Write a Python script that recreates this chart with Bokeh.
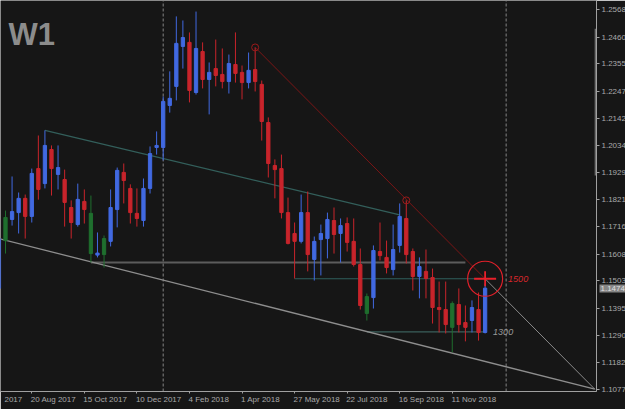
import math
from bokeh.plotting import figure
from bokeh.models import (ColumnDataSource, Range1d, LinearAxis, FixedTicker, Label)
from bokeh.core.properties import value
from bokeh.embed import file_html
from bokeh.resources import INLINE

# ---------------- data (weekly candles, week index 0 = 16 Jul 2017) -------------
week = list(range(75))
opens = [1.1473, 1.1661, 1.1744, 1.1771, 1.1827, 1.1756, 1.1944, 1.1885, 1.2019, 1.1921,
         1.1901, 1.1791, 1.1724, 1.1815, 1.1768, 1.1604, 1.1606, 1.1658, 1.1783, 1.1929,
         1.1866, 1.1768, 1.1740, 1.1866, 1.2027, 1.2027, 1.2192, 1.2267, 1.2424, 1.2440,
         1.2243, 1.2404, 1.2294, 1.2337, 1.2314, 1.2286, 1.2353, 1.2322, 1.2282, 1.2333,
         1.2275, 1.2125, 1.1956, 1.1944, 1.1771, 1.1689, 1.1658, 1.1771, 1.1587, 1.1665,
         1.1669, 1.1740, 1.1689, 1.1728, 1.1658, 1.1567, 1.1375, 1.1437, 1.1618, 1.1595,
         1.1547, 1.1642, 1.1748, 1.1618, 1.1520, 1.1540, 1.1516, 1.1398, 1.1390, 1.1320,
         1.1410, 1.1339, 1.1347, 1.1390, 1.1300]
highs = [1.1677, 1.1779, 1.1913, 1.1850, 1.1842, 1.1944, 1.2074, 1.2094, 1.2035, 1.2035,
         1.1940, 1.1819, 1.1885, 1.1862, 1.1838, 1.1693, 1.1681, 1.1862, 1.1948, 1.1964,
         1.1882, 1.1866, 1.1905, 1.2031, 1.2090, 1.2227, 1.2326, 1.2542, 1.2526, 1.2479,
         1.2561, 1.2440, 1.2361, 1.2451, 1.2416, 1.2392, 1.2479, 1.2349, 1.2400, 1.2420,
         1.2290, 1.2145, 1.1980, 1.1999, 1.1830, 1.1732, 1.1842, 1.1854, 1.1677, 1.1724,
         1.1771, 1.1791, 1.1748, 1.1752, 1.1748, 1.1630, 1.1453, 1.1642, 1.1732, 1.1661,
         1.1724, 1.1807, 1.1819, 1.1630, 1.1595, 1.1626, 1.1551, 1.1500, 1.1500, 1.1422,
         1.1473, 1.1406, 1.1426, 1.1457, 1.1492]
lows = [1.1461, 1.1610, 1.1720, 1.1689, 1.1669, 1.1732, 1.1822, 1.1866, 1.1838, 1.1862,
        1.1716, 1.1669, 1.1716, 1.1728, 1.1575, 1.1595, 1.1555, 1.1638, 1.1713, 1.1807,
        1.1728, 1.1716, 1.1716, 1.1846, 1.1999, 1.1976, 1.2164, 1.2212, 1.2337, 1.2204,
        1.2235, 1.2259, 1.2157, 1.2267, 1.2259, 1.2239, 1.2282, 1.2216, 1.2259, 1.2247,
        1.2054, 1.1909, 1.1827, 1.1748, 1.1646, 1.1512, 1.1650, 1.1540, 1.1504, 1.1524,
        1.1591, 1.1610, 1.1575, 1.1618, 1.1559, 1.1390, 1.1347, 1.1394, 1.1583, 1.1532,
        1.1524, 1.1614, 1.1571, 1.1465, 1.1434, 1.1434, 1.1335, 1.1300, 1.1296, 1.1222,
        1.1300, 1.1265, 1.1300, 1.1268, 1.1296]
closes = [1.1669, 1.1752, 1.1775, 1.1827, 1.1756, 1.1925, 1.1862, 1.2035, 1.1944, 1.1948,
          1.1811, 1.1732, 1.1823, 1.1783, 1.1610, 1.1612, 1.1669, 1.1791, 1.1937, 1.1897,
          1.1771, 1.1748, 1.1866, 1.2003, 1.2035, 1.2208, 1.2220, 1.2436, 1.2459, 1.2251,
          1.2416, 1.2294, 1.2322, 1.2310, 1.2286, 1.2357, 1.2318, 1.2282, 1.2330, 1.2286,
          1.2129, 1.1964, 1.1940, 1.1771, 1.1650, 1.1658, 1.1771, 1.1606, 1.1658, 1.1689,
          1.1744, 1.1685, 1.1720, 1.1654, 1.1567, 1.1406, 1.1441, 1.1622, 1.1602, 1.1555,
          1.1626, 1.1756, 1.1606, 1.1520, 1.1559, 1.1512, 1.1398, 1.1390, 1.1331, 1.1414,
          1.1331, 1.1320, 1.1398, 1.1300, 1.1474]
signal_weeks = [1, 14, 16, 56, 69]   # candles drawn in green

price_ticks = [1.2568, 1.2460, 1.2355, 1.2247, 1.2142, 1.2034, 1.1929, 1.1821,
               1.1716, 1.1608, 1.1503, 1.1395, 1.1290, 1.1182, 1.1077]
date_tick_weeks = [-3, 5, 13, 21, 29, 37, 45, 53, 61, 69]
date_tick_labels = ["25 Jun 2017", "20 Aug 2017", "15 Oct 2017", "10 Dec 2017",
                    "4 Feb 2018", "1 Apr 2018", "27 May 2018", "22 Jul 2018",
                    "16 Sep 2018", "11 Nov 2018"]

channel_top_weeks = [7, 61]
channel_top_prices = [1.2094, 1.1762]
channel_bottom_weeks = [0, 90.7]
channel_bottom_prices = [1.1669, 1.1077]
target_line_weeks = [39, 74]
target_line_prices = [1.2420, 1.1511]
projection_weeks = [74, 90.7]
projection_prices = [1.1511, 1.1077]
touch_weeks = [39, 62]
touch_prices = [1.2420, 1.1819]
support_level = 1.1575
support_weeks = [14, 71]
level_1500 = 1.1511
level_1500_weeks = [45, 74]
level_1300 = 1.1302
level_1300_weeks = [56, 74]
target_week = 74
separator_weeks = [25, 77.2]
current_price = 1.1474
range_bar_week = 90.9
range_bar_prices = [1.2493, 1.1917]

# ---------------- styling ----------------
BG = "#161616"
BULL = "#4169e1"
BEAR = "#c8242b"
SIGNAL = "#1f6f2e"
TXT = "#a9a9a9"
FONT = "Liberation Sans"
LABEL_PX = 8

X_START, X_END = 0.239, 90.954
Y_START, Y_END = 1.1068, 1.26045
FRAME_W, FRAME_H = 596, 391
px_per_week = FRAME_W / (X_END - X_START)

# approximate Arial advance widths (em) to left-align date labels on their ticks
CHAR_W = {" ": 0.278, "A": 0.667, "D": 0.722, "F": 0.611, "J": 0.5, "M": 0.833,
          "N": 0.722, "O": 0.778, "S": 0.667, "a": 0.556, "b": 0.556, "c": 0.5,
          "e": 0.556, "g": 0.556, "l": 0.222, "n": 0.556, "o": 0.556, "p": 0.556,
          "r": 0.333, "t": 0.278, "u": 0.556, "v": 0.5, "y": 0.5}


def text_px(s):
    return sum(CHAR_W.get(ch, 0.556) for ch in s) * LABEL_PX


# label starts at its tick; a label running off the left edge shows only its visible tail
shown_labels, label_centers = [], []
for w, t in zip(date_tick_weeks, date_tick_labels):
    left = (w - X_START) * px_per_week - 1
    words = t.split(" ")
    while left < 0 and len(words) > 1:
        left += text_px(words[0] + " ")
        words = words[1:]
    shown = " ".join(words)
    shown_labels.append(shown)
    label_centers.append(X_START + (left + text_px(shown) / 2) / px_per_week)

colors = []
for i in week:
    if i in signal_weeks:
        colors.append(SIGNAL)
    elif closes[i] >= opens[i]:
        colors.append(BULL)
    else:
        colors.append(BEAR)

src = ColumnDataSource(dict(
    x=week,
    high=highs,
    low=lows,
    top=[max(o, c) for o, c in zip(opens, closes)],
    bottom=[min(o, c) for o, c in zip(opens, closes)],
    color=colors,
))

p = figure(frame_width=FRAME_W, frame_height=FRAME_H,
           x_range=Range1d(X_START, X_END), y_range=Range1d(Y_START, Y_END),
           x_axis_location=None, y_axis_location=None,
           toolbar_location=None, output_backend="svg",
           background_fill_color=BG, border_fill_color=BG,
           min_border_left=0, min_border_top=0, min_border_right=29, min_border_bottom=18)
p.outline_line_color = None
p.grid.visible = False

# period separators
for sw in separator_weeks:
    p.segment(x0=[sw], x1=[sw], y0=[Y_START], y1=[Y_END],
              line_color="#858585", line_width=1, line_dash="3 2")

# horizontal levels
p.segment(x0=[support_weeks[0]], x1=[support_weeks[1]], y0=[support_level], y1=[support_level],
          line_color="#5c5c5c", line_width=2)
p.segment(x0=[level_1500_weeks[0]], x1=[level_1500_weeks[1]], y0=[level_1500], y1=[level_1500],
          line_color="#2f5f5c", line_width=1.2)
p.segment(x0=[level_1300_weeks[0]], x1=[level_1300_weeks[1]], y0=[level_1300], y1=[level_1300],
          line_color="#3a5f5b", line_width=1.2)

# channel & trend lines
p.line(channel_top_weeks, channel_top_prices, line_color="#335f5b", line_width=1.3)
p.line(channel_bottom_weeks, channel_bottom_prices, line_color="#8e8e8e", line_width=1.3)
p.line(target_line_weeks, target_line_prices, line_color="#7a1616", line_width=1)
p.line(projection_weeks, projection_prices, line_color="#8a8a8a", line_width=1)

# candles
p.segment(x0="x", x1="x", y0="low", y1="high", line_color="color", line_width=1, source=src)
p.vbar(x="x", width=0.5, top="top", bottom="bottom", fill_color="color",
       line_color="color", line_width=1, source=src)

# touch markers and target
p.scatter(touch_weeks, touch_prices, marker="circle", size=7, fill_color=None,
          line_color="#9b1b1b", line_width=1)
p.scatter([target_week], [level_1500], marker="circle", size=35, fill_color=None,
          line_color="#e0202a", line_width=1.2)
p.scatter([target_week], [level_1500], marker="dash", size=22,
          line_color="#e8202a", line_width=1.8)
p.scatter([target_week], [level_1500], marker="dash", size=15, angle=math.pi / 2,
          line_color="#e8202a", line_width=1.8)

# level captions
p.text(x=[target_week], y=[level_1500], text=["1500"], x_offset=23,
       text_baseline="middle", text_align="left", text_color="#d8262b",
       text_font=value(FONT), text_font_size="9px", text_font_style="italic")
p.text(x=[target_week], y=[level_1300], text=["1300"], x_offset=8,
       text_baseline="middle", text_align="left", text_color="#9a9a9a",
       text_font=value(FONT), text_font_size="9px", text_font_style="italic")

# range bar on price scale
p.segment(x0=[range_bar_week], x1=[range_bar_week], y0=[range_bar_prices[0]], y1=[range_bar_prices[1]],
          line_color="#6e6e6e", line_width=3)

# price axis (right)
yaxis = LinearAxis(ticker=FixedTicker(ticks=price_ticks),
                   major_label_overrides={t: f"{t:.4f}" for t in price_ticks})
yaxis.axis_line_color = "#a0a0a0"
yaxis.major_tick_line_color = "#a0a0a0"
yaxis.major_tick_out = 3
yaxis.major_tick_in = 0
yaxis.minor_tick_line_color = None
yaxis.major_label_standoff = 2
yaxis.major_label_text_color = TXT
yaxis.major_label_text_font = FONT
yaxis.major_label_text_font_size = "8px"
p.add_layout(yaxis, "right")

# current price tag: a second right axis; its wide inward tick forms the grey box and
# its label is pulled back over the price scale
tag_axis = LinearAxis(ticker=FixedTicker(ticks=[current_price]),
                      major_label_overrides={current_price: f"{current_price:.4f}"})
tag_axis.axis_line_color = None
tag_axis.major_tick_line_color = "#858585"
tag_axis.major_tick_line_width = 8
tag_axis.major_tick_in = 29
tag_axis.major_tick_out = 0
tag_axis.minor_tick_line_color = None
tag_axis.major_label_standoff = -28
tag_axis.major_label_text_color = "#e0e0e0"
tag_axis.major_label_text_font = FONT
tag_axis.major_label_text_font_size = "8px"
p.add_layout(tag_axis, "right")

# time axis: tick marks on the real week positions
xaxis = LinearAxis(ticker=FixedTicker(ticks=date_tick_weeks),
                   major_label_overrides={w: "" for w in date_tick_weeks})
xaxis.axis_line_color = "#a0a0a0"
xaxis.major_tick_line_color = "#a0a0a0"
xaxis.major_tick_out = 2
xaxis.major_tick_in = 0
xaxis.minor_tick_line_color = None
xaxis.major_label_text_font_size = "0px"
xaxis.major_label_standoff = 0
p.add_layout(xaxis, "below")

# time axis labels, starting at their ticks (MetaTrader style)
xlabels = LinearAxis(ticker=FixedTicker(ticks=label_centers),
                     major_label_overrides={c: t for c, t in zip(label_centers, shown_labels)})
xlabels.axis_line_color = None
xlabels.major_tick_line_color = None
xlabels.minor_tick_line_color = None
xlabels.major_tick_out = 0
xlabels.major_tick_in = 0
xlabels.major_label_standoff = 1
xlabels.major_label_text_color = TXT
xlabels.major_label_text_font = FONT
xlabels.major_label_text_font_size = "8px"
p.add_layout(xlabels, "below")

# timeframe caption
p.add_layout(Label(x=8, y=357.5, x_units="screen", y_units="screen", text="W1",
                   text_align="left", text_baseline="alphabetic",
                   text_color="#8c8c8c", text_font=FONT, text_font_size="31px",
                   text_font_style="bold"))

open("out.html", "w").write(file_html(p, INLINE))
